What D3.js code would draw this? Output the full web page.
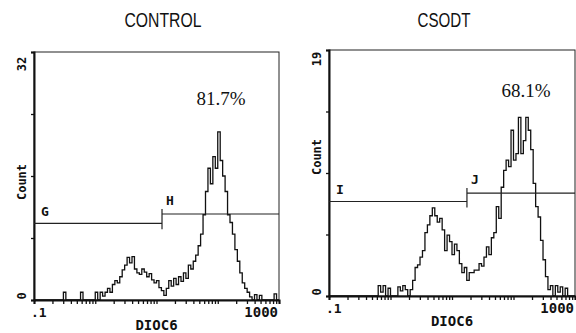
<!DOCTYPE html>
<html>
<head>
<meta charset="utf-8">
<script src="https://cdn.jsdelivr.net/npm/d3@7"></script>
<style>
  body { margin: 0; background: #fff; }
  svg { display: block; }
</style>
</head>
<body>
<svg id="chart" width="576" height="333"></svg>
<script>
// histogram counts, 100 log-spaced channels from 0.1 to 1000
var controlCounts = [
  0, 0, 0, 0, 0, 0, 0, 0, 0, 0,
  0, 0, 1, 0, 0, 0, 0, 0, 0, 1,
  0, 0, 0, 0, 0, 1, 0, 1, 0.5, 1,
  1.5, 1, 2, 2.5, 2.2, 3, 3.9, 4.5, 5.5, 4.8,
  5.6, 4, 3.5, 3.3, 4, 3.6, 3, 3.4, 2.6, 2.2,
  2.5, 1.6, 1.2, 0.6, 1.5, 2.5, 1.8, 2.8, 2, 3,
  2.4, 3.5, 2.8, 4.5, 4, 5, 5.8, 7, 8.5, 11,
  14, 17, 15, 18.5, 17, 21.7, 18, 16, 14, 11,
  10, 8.5, 6.5, 5, 3.5, 2.2, 1.5, 1, 0.4, 0,
  0.7, 0, 0.6, 0, 0, 0, 0, 0, 0.8, 0
];
var csodtCounts = [
  0, 0, 0, 0, 0, 0, 0, 0, 0, 0,
  0, 0, 0, 0, 0, 0, 0, 0, 0, 0,
  0.8, 0.3, 0.8, 0, 0.6, 0, 0, 0, 0.7, 0.4,
  0.8, 0.5, 0, 0.5, 1.2, 2.2, 2.4, 3, 3.5, 4.9,
  5.5, 6.2, 6.8, 6.2, 5.7, 6, 5.1, 3.5, 4.7, 4.2,
  3.2, 4, 3.5, 2.5, 1.8, 2.2, 1.2, 1.8, 1.8, 2,
  2, 2.5, 2.3, 3, 3.8, 3.2, 4.5, 4.9, 6.9, 6,
  8.4, 9.7, 10.5, 10, 12.8, 10.5, 11, 13.8, 11, 12,
  13.8, 12.8, 11.3, 8.7, 6.9, 6.1, 4.3, 2.8, 1.5, 0.5,
  0.8, 0, 0.8, 0.3, 0.7, 0, 0.6, 0, 0, 0
];

var panelTitles = ["CONTROL", "CSODT"];
var yMaxes = [32, 19];
var percentLabels = ["81.7%", "68.1%"];
var gateNames = [["G", "H"], ["I", "J"]];
var gateSplits = [12.3, 17.5];              // DIOC6 value where the two markers meet
var gateLevels = [[9.9, 11.1], [7.3, 7.95]]; // count level of left / right marker
var xDomain = [0.1, 1000];
var xTickLabels = [".1", "1000"];

var svg = d3.select("#chart");
var mono = "'DejaVu Sans Mono', monospace";

function drawPanel(p, counts, box, pos) {
  let x = d3.scaleLog().domain(xDomain).range([box.left, box.right]);
  let y = d3.scaleLinear().domain([0, yMaxes[p]]).range([box.bottom, box.top]);
  let g = svg.append("g");

  // title
  g.append("text")
    .text(panelTitles[p])
    .attr("x", pos.titleX)
    .attr("y", 27)
    .attr("text-anchor", "middle")
    .attr("textLength", pos.titleW)
    .attr("lengthAdjust", "spacingAndGlyphs")
    .style("font-family", "'Liberation Sans', Arial, sans-serif")
    .style("font-size", "20px")
    .style("fill", "#111");

  // frame
  g.append("rect")
    .attr("x", box.left).attr("y", box.top)
    .attr("width", box.right - box.left).attr("height", box.bottom - box.top)
    .attr("fill", "none").attr("stroke", "#222").attr("stroke-width", 1);

  // histogram
  let n = counts.length;
  let lo = Math.log10(xDomain[0]), hi = Math.log10(xDomain[1]);
  let pts = counts.map((c, i) => ({ v: Math.pow(10, lo + (hi - lo) * i / n), c: c }));
  pts.push({ v: xDomain[1], c: counts[n - 1] });
  let line = d3.line()
    .x((d) => x(d.v))
    .y((d) => y(d.c))
    .curve(d3.curveStepAfter);
  g.append("path")
    .attr("d", line(pts))
    .attr("fill", "none")
    .attr("stroke", "#111")
    .attr("stroke-width", 1.3);

  // x axis
  let xAxis = d3.axisBottom(x)
    .tickValues(x.ticks())
    .tickSize(4)
    .tickFormat("");
  let xg = g.append("g").attr("transform", "translate(0," + box.bottom + ")").call(xAxis);
  xg.select(".domain").attr("stroke", "#111").attr("stroke-width", 2);
  xg.selectAll(".tick line").attr("stroke", "#111").attr("stroke-width", 1.3);

  // y axis
  let ym = yMaxes[p];
  let yAxis = d3.axisLeft(y)
    .tickValues([0, ym / 4, ym / 2, ym * 3 / 4, ym])
    .tickSize(3)
    .tickFormat("");
  let yg = g.append("g").attr("transform", "translate(" + box.left + ",0)").call(yAxis);
  yg.select(".domain").attr("stroke", "#111").attr("stroke-width", 2);
  yg.selectAll(".tick line").attr("stroke", "#111").attr("stroke-width", 1.3);

  // x tick labels + axis title
  g.append("text").text(xTickLabels[0])
    .attr("x", box.left - 3).attr("y", box.bottom + 17)
    .style("font-family", mono).style("font-weight", "bold").style("font-size", "13px").style("fill", "#111");
  g.append("text").text(xTickLabels[1])
    .attr("x", box.right - 1).attr("y", box.bottom + 17)
    .attr("text-anchor", "end")
    .style("font-family", mono).style("font-weight", "bold").style("font-size", "14px").style("fill", "#111");
  g.append("text").text("DIOC6")
    .attr("x", (box.left + box.right) / 2).attr("y", box.bottom + 30)
    .attr("text-anchor", "middle")
    .style("font-family", mono).style("font-weight", "bold").style("font-size", "14px").style("fill", "#111");

  // y labels, rotated
  let yLabels = [[String(ym), pos.topLabelY], ["Count", pos.countY], ["0", box.bottom - 4]];
  for (let l of yLabels) {
    g.append("text").text(l[0])
      .attr("transform", "translate(" + (box.left - 12) + "," + l[1] + ") rotate(-90)")
      .attr("text-anchor", "middle")
      .attr("dominant-baseline", "central")
      .style("font-family", mono).style("font-weight", "bold").style("font-size", "12px").style("fill", "#111");
  }

  // gate markers
  let split = x(gateSplits[p]);
  let yl = y(gateLevels[p][0]), yr = y(gateLevels[p][1]);
  g.append("line").attr("x1", box.left).attr("x2", split).attr("y1", yl).attr("y2", yl)
    .attr("stroke", "#222").attr("stroke-width", 1.2);
  g.append("line").attr("x1", split).attr("x2", box.right).attr("y1", yr).attr("y2", yr)
    .attr("stroke", "#222").attr("stroke-width", 1.2);
  g.append("line").attr("x1", split).attr("x2", split).attr("y1", yr - 5).attr("y2", yl + 6)
    .attr("stroke", "#222").attr("stroke-width", 1.2);
  g.append("text").text(gateNames[p][0])
    .attr("x", box.left + 7).attr("y", yl - 7)
    .style("font-family", mono).style("font-weight", "bold").style("font-size", "13px").style("fill", "#111");
  g.append("text").text(gateNames[p][1])
    .attr("x", split + 4).attr("y", yr - 9)
    .style("font-family", mono).style("font-weight", "bold").style("font-size", "13px").style("fill", "#111");

  // percentage
  g.append("text").text(percentLabels[p])
    .attr("x", pos.pctX).attr("y", pos.pctY)
    .attr("text-anchor", "middle")
    .style("font-family", "'Liberation Serif', 'Times New Roman', serif")
    .style("font-size", "19px")
    .style("fill", "#111");
}

drawPanel(0, controlCounts,
  { left: 34, right: 279, top: 52, bottom: 300 },
  { titleX: 163, titleW: 77, topLabelY: 64, countY: 182, pctX: 221, pctY: 105 });
drawPanel(1, csodtCounts,
  { left: 329, right: 575, top: 50, bottom: 296 },
  { titleX: 444, titleW: 53, topLabelY: 59, countY: 157, pctX: 526, pctY: 97 });
</script>
</body>
</html>
